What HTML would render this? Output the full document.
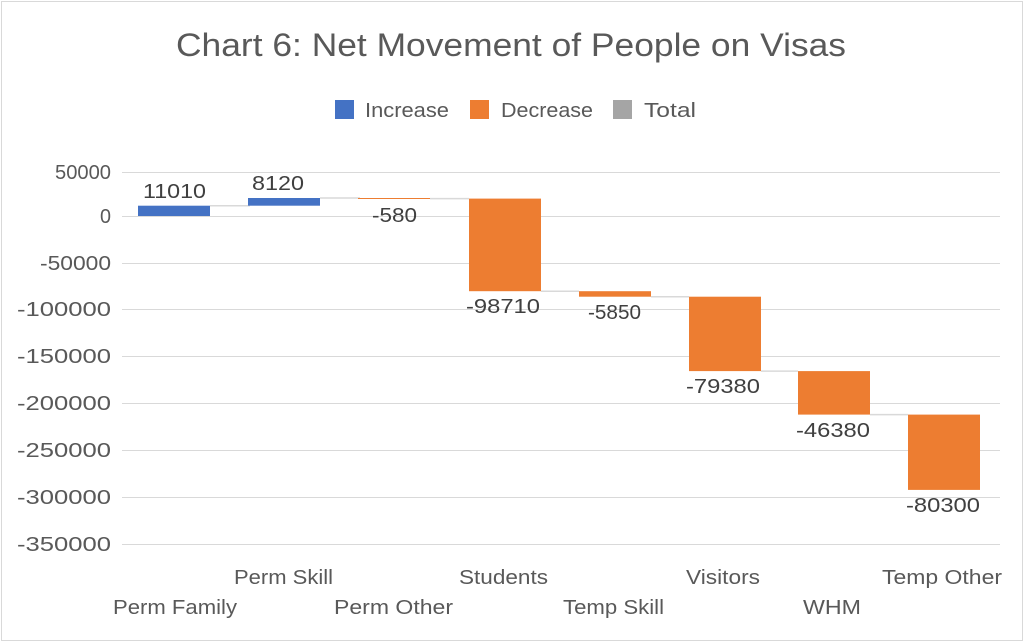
<!DOCTYPE html>
<html><head><meta charset="utf-8"><style>
body{margin:0;background:#fff}
svg{display:block;font-family:"Liberation Sans",Arial,sans-serif}
</style></head><body>
<svg width="1024" height="642" viewBox="0 0 1024 642" xmlns="http://www.w3.org/2000/svg">
<rect x="1.5" y="1.5" width="1021" height="639" fill="#fff" stroke="#d9d9d9" stroke-width="1"/>
<text x="176" y="56" font-size="32" fill="#595959" textLength="670" lengthAdjust="spacingAndGlyphs">Chart 6: Net Movement of People on Visas</text>
<rect x="335" y="100" width="19" height="19" fill="#4472c4"/>
<text x="365" y="117" font-size="20" fill="#595959" textLength="84" lengthAdjust="spacingAndGlyphs">Increase</text>
<rect x="470" y="100" width="19" height="19" fill="#ed7d31"/>
<text x="501" y="117" font-size="20" fill="#595959" textLength="92" lengthAdjust="spacingAndGlyphs">Decrease</text>
<rect x="613" y="100" width="19" height="19" fill="#a5a5a5"/>
<text x="644" y="117" font-size="20" fill="#595959" textLength="52" lengthAdjust="spacingAndGlyphs">Total</text>
<g stroke="#d9d9d9" stroke-width="1">
<line x1="122" x2="1000" y1="172.5" y2="172.5"/>
<line x1="122" x2="1000" y1="216.5" y2="216.5"/>
<line x1="122" x2="1000" y1="263.5" y2="263.5"/>
<line x1="122" x2="1000" y1="309.5" y2="309.5"/>
<line x1="122" x2="1000" y1="356.5" y2="356.5"/>
<line x1="122" x2="1000" y1="403.5" y2="403.5"/>
<line x1="122" x2="1000" y1="450.5" y2="450.5"/>
<line x1="122" x2="1000" y1="497.5" y2="497.5"/>
<line x1="122" x2="1000" y1="544.5" y2="544.5"/>
</g>
<g font-size="20" fill="#595959" lengthAdjust="spacingAndGlyphs">
<text x="55" y="179" textLength="56" lengthAdjust="spacingAndGlyphs">50000</text>
<text x="100" y="223" textLength="11" lengthAdjust="spacingAndGlyphs">0</text>
<text x="40" y="270" textLength="71" lengthAdjust="spacingAndGlyphs">-50000</text>
<text x="17" y="316" textLength="94" lengthAdjust="spacingAndGlyphs">-100000</text>
<text x="17" y="363" textLength="94" lengthAdjust="spacingAndGlyphs">-150000</text>
<text x="17" y="410" textLength="94" lengthAdjust="spacingAndGlyphs">-200000</text>
<text x="17" y="457" textLength="94" lengthAdjust="spacingAndGlyphs">-250000</text>
<text x="17" y="504" textLength="94" lengthAdjust="spacingAndGlyphs">-300000</text>
<text x="17" y="551" textLength="94" lengthAdjust="spacingAndGlyphs">-350000</text>
</g>
<g stroke="#d9d9d9" stroke-width="1.5">
<line x1="210" x2="250" y1="205.7" y2="205.7"/>
<line x1="320" x2="360" y1="198" y2="198"/>
<line x1="430" x2="469" y1="198.6" y2="198.6"/>
<line x1="541" x2="579" y1="291.2" y2="291.2"/>
<line x1="651" x2="689" y1="296.7" y2="296.7"/>
<line x1="761" x2="798" y1="371.1" y2="371.1"/>
<line x1="870" x2="908" y1="414.6" y2="414.6"/>
</g>
<rect x="138" y="205.7" width="72" height="10.3" fill="#4472c4"/>
<rect x="248" y="198" width="72" height="7.7" fill="#4472c4"/>
<rect x="358" y="198" width="72" height="1" fill="#ed7d31"/>
<rect x="469" y="198.6" width="72" height="92.6" fill="#ed7d31"/>
<rect x="579" y="291.2" width="72" height="5.5" fill="#ed7d31"/>
<rect x="689" y="296.7" width="72" height="74.4" fill="#ed7d31"/>
<rect x="798" y="371.1" width="72" height="43.5" fill="#ed7d31"/>
<rect x="908" y="414.6" width="72" height="75.3" fill="#ed7d31"/>
<g font-size="20" fill="#404040">
<text x="143" y="198" textLength="63" lengthAdjust="spacingAndGlyphs">11010</text>
<text x="252" y="190" textLength="52" lengthAdjust="spacingAndGlyphs">8120</text>
<text x="372" y="222" textLength="45" lengthAdjust="spacingAndGlyphs">-580</text>
<text x="466" y="313" textLength="74" lengthAdjust="spacingAndGlyphs">-98710</text>
<text x="588" y="319" textLength="53" lengthAdjust="spacingAndGlyphs">-5850</text>
<text x="686" y="393" textLength="74" lengthAdjust="spacingAndGlyphs">-79380</text>
<text x="796" y="437" textLength="74" lengthAdjust="spacingAndGlyphs">-46380</text>
<text x="906" y="512" textLength="74" lengthAdjust="spacingAndGlyphs">-80300</text>
</g>
<g font-size="20" fill="#595959">
<text x="113" y="614" textLength="124" lengthAdjust="spacingAndGlyphs">Perm Family</text>
<text x="234" y="584" textLength="99" lengthAdjust="spacingAndGlyphs">Perm Skill</text>
<text x="334" y="614" textLength="119" lengthAdjust="spacingAndGlyphs">Perm Other</text>
<text x="459" y="584" textLength="89" lengthAdjust="spacingAndGlyphs">Students</text>
<text x="563" y="614" textLength="101" lengthAdjust="spacingAndGlyphs">Temp Skill</text>
<text x="686" y="584" textLength="74" lengthAdjust="spacingAndGlyphs">Visitors</text>
<text x="803" y="614" textLength="58" lengthAdjust="spacingAndGlyphs">WHM</text>
<text x="882" y="584" textLength="120" lengthAdjust="spacingAndGlyphs">Temp Other</text>
</g>
</svg>
</body></html>
